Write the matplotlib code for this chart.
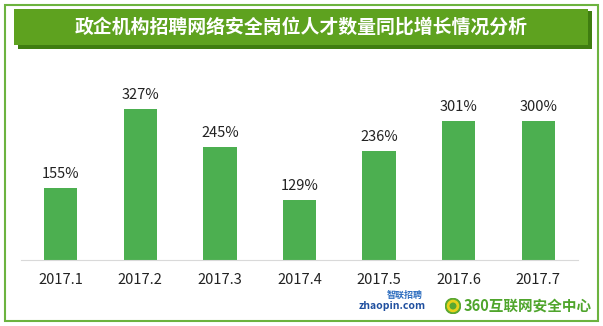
import matplotlib.pyplot as plt
from matplotlib.patches import Rectangle, Circle

plt.rcParams['font.family'] = ['Noto Sans CJK SC', 'DejaVu Sans']

# data
months = ['2017.1', '2017.2', '2017.3', '2017.4', '2017.5', '2017.6', '2017.7']
growth = [155, 327, 245, 129, 236, 301, 300]
title = '政企机构招聘网络安全岗位人才数量同比增长情况分析'

W, H = 603, 326
fig = plt.figure(figsize=(W / 100, H / 100), dpi=100)

def fx(px):
    return px / W

def fy(py):
    return 1 - py / H

# outer green frame
fig.patches.append(Rectangle((fx(5), fy(321)), fx(593), (316) / H, transform=fig.transFigure,
                             fill=False, edgecolor='#6cb33f', linewidth=1.5))

# title banner with shadow
fig.patches.append(Rectangle((fx(18), fy(49)), fx(574), 38 / H, transform=fig.transFigure,
                             facecolor='#3f7d10', edgecolor='none'))
fig.patches.append(Rectangle((fx(14), fy(45)), fx(574), 36 / H, transform=fig.transFigure,
                             facecolor='#5ea21f', edgecolor='none'))
fig.text(fx(301), fy(27), title, color='white', fontsize=13.6, fontweight='bold',
         ha='center', va='center')

# bar axes
ax = fig.add_axes([fx(21), fy(260), fx(557), 200 / H])
x = range(len(months))
bars = ax.bar(x, growth, width=0.42, color='#4caf50', zorder=2)
ax.set_xlim(-0.5, 6.5)
ax.set_ylim(0, 432)
for b, v in zip(bars, growth):
    ax.annotate(f'{v}%', (b.get_x() + b.get_width() / 2, v), xytext=(0, 5),
                textcoords='offset points', ha='center', va='bottom',
                fontsize=10.5, color='#222222')
ax.set_xticks(list(x))
ax.set_xticklabels(months, fontsize=10.5, color='#222222')
ax.tick_params(axis='x', length=0, pad=9)
ax.set_yticks([])
for s in ['top', 'left', 'right']:
    ax.spines[s].set_visible(False)
ax.spines['bottom'].set_color('#d9d9d9')
ax.patch.set_visible(False)

# logos at the bottom
fig.text(fx(405), fy(295), '智联招聘', color='#2f6fc0', fontsize=6.5, style='italic',
         fontweight='bold', ha='center', va='center')
fig.text(fx(392), fy(306), 'zhaopin.com', color='#1f4f9f', fontsize=7.5,
         fontweight='bold', style='italic', ha='center', va='center')
circ_ax = fig.add_axes([fx(445), fy(314), fx(16), 16 / H])
circ_ax.set_xlim(-1, 1)
circ_ax.set_ylim(-1, 1)
circ_ax.set_aspect('equal')
circ_ax.axis('off')
circ_ax.add_patch(Circle((0, 0), 0.95, color='#5aa832'))
circ_ax.add_patch(Circle((0, 0), 0.7, color='#e8d21a'))
circ_ax.add_patch(Circle((0, 0), 0.35, color='#5aa832'))
fig.text(fx(464), fy(306), '360互联网安全中心', color='#4fa52c', fontsize=10.5,
         fontweight='bold', ha='left', va='center')

fig.savefig('out.png', dpi=100)
